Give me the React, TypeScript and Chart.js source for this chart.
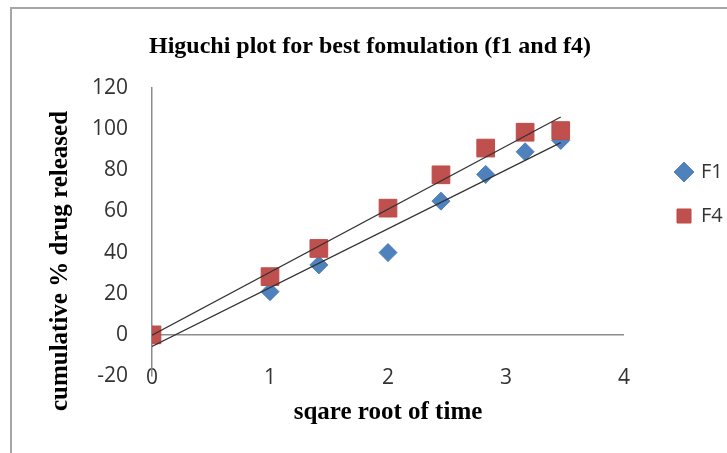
import React, { useEffect, useRef } from 'react';
import { Chart, registerables } from 'chart.js';

Chart.register(...registerables);

// ---- data ----
const sqrtTime = [0, 1, 1.414, 2, 2.449, 2.828, 3.162, 3.464];
const f1Values = [0, 21, 34, 40, 65, 78, 89, 94.5];
const f4Values = [0, 28.3, 42, 61.6, 77.8, 90.8, 98.5, 99.3];
const seriesNames = ['F1', 'F4'];
const xRange = [0, 4];
const yRange = [-20, 120];
const xStep = 1;
const yStep = 20;

const CHART_TITLE = 'Higuchi plot for best fomulation (f1 and f4)';
const X_TITLE = 'sqare root of time';
const Y_TITLE = 'cumulative % drug released';

function linearFit(xs: number[], ys: number[]) {
  const n = xs.length;
  const mx = xs.reduce((a, b) => a + b, 0) / n;
  const my = ys.reduce((a, b) => a + b, 0) / n;
  let sxy = 0;
  let sxx = 0;
  for (let i = 0; i < n; i++) {
    sxy += (xs[i] - mx) * (ys[i] - my);
    sxx += (xs[i] - mx) * (xs[i] - mx);
  }
  const m = sxy / sxx;
  return { m, b: my - m * mx };
}

function trendPoints(xs: number[], ys: number[]) {
  const { m, b } = linearFit(xs, ys);
  const x0 = Math.min(...xs);
  const x1 = Math.max(...xs);
  return [
    { x: x0, y: m * x0 + b },
    { x: x1, y: m * x1 + b },
  ];
}

const toPoints = (xs: number[], ys: number[]) => xs.map((x, i) => ({ x, y: ys[i] }));

const yTitlePlugin = {
  id: 'yTitleCustom',
  afterDraw(chart: any) {
    const ctx = chart.ctx;
    ctx.save();
    ctx.translate(61, 261);
    ctx.rotate(-Math.PI / 2);
    ctx.font = 'bold 25px "Liberation Serif"';
    ctx.fillStyle = '#000';
    ctx.textAlign = 'center';
    ctx.textBaseline = 'middle';
    ctx.fillText(Y_TITLE, 0, 0);
    ctx.restore();
  },
};

export default function App() {
  const ref = useRef<HTMLCanvasElement | null>(null);

  useEffect(() => {
    if (!ref.current) return;
    const tickFont = { family: '"Open Sans"', size: 21 };
    const chart = new Chart(ref.current, {
      type: 'scatter',
      data: {
        datasets: [
          {
            label: seriesNames[0],
            data: toPoints(sqrtTime, f1Values),
            pointStyle: 'rectRot',
            pointRadius: 9,
            backgroundColor: '#4F81BD',
            borderColor: '#4A7EBB',
            borderWidth: 1,
            order: 2,
          },
          {
            label: seriesNames[1],
            data: toPoints(sqrtTime, f4Values),
            pointStyle: 'rect',
            pointRadius: 12.5,
            backgroundColor: '#C0504D',
            borderColor: '#BE4B48',
            borderWidth: 1,
            order: 1,
          },
          {
            label: 'F1 trend',
            data: trendPoints(sqrtTime, f1Values),
            showLine: true,
            pointRadius: 0,
            borderColor: '#333333',
            borderWidth: 1.3,
            order: 0,
          },
          {
            label: 'F4 trend',
            data: trendPoints(sqrtTime, f4Values),
            showLine: true,
            pointRadius: 0,
            borderColor: '#333333',
            borderWidth: 1.3,
            order: 0,
          },
        ],
      },
      options: {
        responsive: false,
        animation: false,
        events: [],
        layout: { padding: { left: 13, right: 0, top: 0, bottom: 0 } },
        plugins: {
          tooltip: { enabled: false },
          title: {
            display: true,
            text: CHART_TITLE,
            color: '#000',
            font: { family: '"Liberation Serif"', weight: 'bold', size: 24 },
            padding: { top: 32.6, bottom: 26.6 },
          },
          legend: {
            position: 'right',
            align: 'start',
            fullSize: false,
            maxWidth: 74,
            title: {
              display: true,
              text: '',
              font: { size: 12 },
              padding: { top: 0, bottom: 35.6 },
            },
            labels: {
              usePointStyle: true,
              boxWidth: 14,
              boxHeight: 14,
              padding: 24,
              color: '#333',
              font: { family: '"Open Sans"', size: 20 },
              filter: (item: any) => item.datasetIndex < 2,
              sort: (a: any, b: any) => a.datasetIndex - b.datasetIndex,
            },
          },
        },
        scales: {
          x: {
            type: 'linear',
            min: xRange[0],
            max: xRange[1],
            ticks: { stepSize: xStep, padding: -15, mirror: true, color: '#333', font: tickFont },
            grid: { display: false, drawTicks: false },
            border: { display: false },
            title: {
              display: true,
              text: X_TITLE,
              color: '#000',
              font: { family: '"Liberation Serif"', weight: 'bold', size: 25 },
              padding: { top: 52, bottom: 25 },
            },
          },
          y: {
            type: 'linear',
            min: yRange[0],
            max: yRange[1],
            ticks: { stepSize: yStep, padding: 24, color: '#333', font: tickFont },
            grid: {
              drawTicks: false,
              color: (c: any) => (c.tick && c.tick.value === 0 ? '#8c8c8c' : 'rgba(0,0,0,0)'),
              lineWidth: 1.5,
            },
            border: { display: true, color: '#8c8c8c', width: 1.5 },
            afterFit: (s: any) => {
              s.width = 139;
            },
          },
          y2: {
            type: 'linear',
            position: 'right',
            display: true,
            ticks: { display: false },
            grid: { display: false, drawTicks: false },
            border: { display: false },
            afterFit: (s: any) => {
              s.width = 29;
            },
          },
        },
      } as any,
      plugins: [yTitlePlugin],
    });
    return () => chart.destroy();
  }, []);

  return (
    <div
      style={{
        position: 'fixed',
        left: 0,
        top: 0,
        width: 727,
        height: 453,
        background: '#fff',
        overflow: 'hidden',
      }}
    >
      <canvas ref={ref} width={727} height={453} style={{ display: 'block' }} />
      <div
        style={{
          position: 'absolute',
          left: 10,
          top: 7,
          width: 800,
          height: 600,
          borderTop: '2px solid #a6a6a6',
          borderLeft: '2px solid #a6a6a6',
          pointerEvents: 'none',
        }}
      />
    </div>
  );
}
